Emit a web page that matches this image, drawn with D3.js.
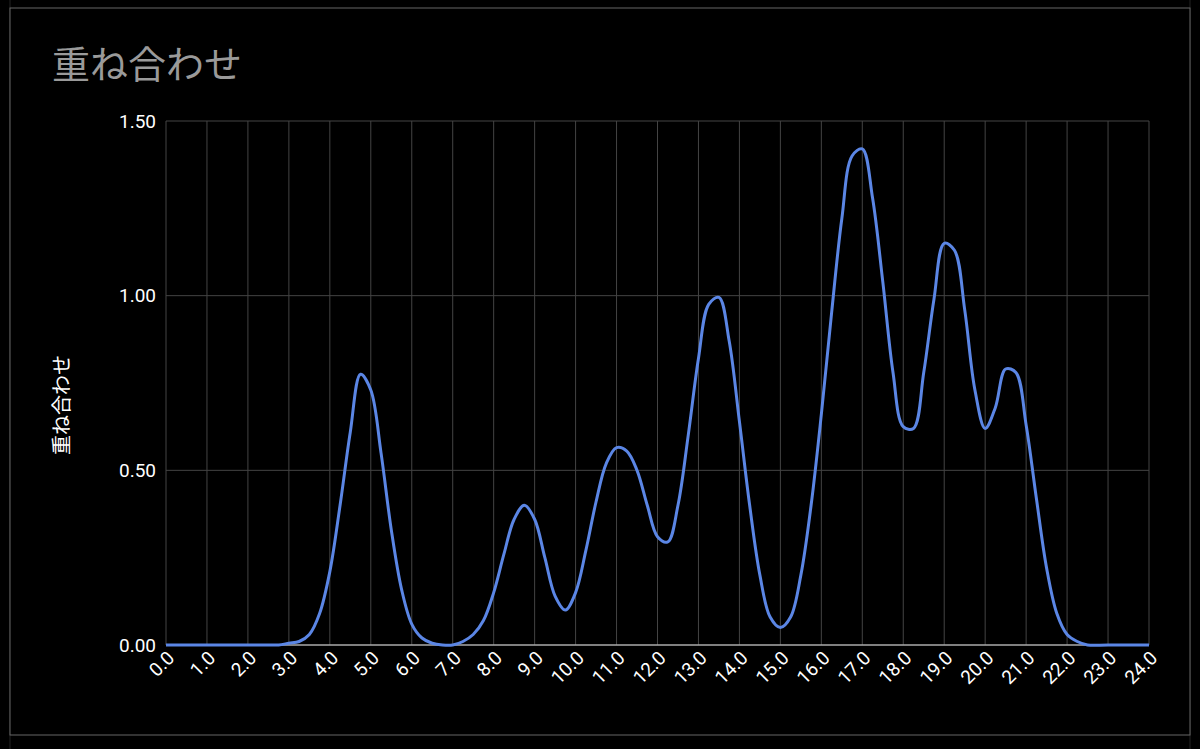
<!DOCTYPE html>
<html><head><meta charset="utf-8">
<script src="https://cdn.jsdelivr.net/npm/d3@7"></script>
<style>body{margin:0;background:#000}svg{display:block}</style>
</head><body>
<svg id="c" width="1200" height="749"></svg>
<script>
// values, x step 0.25
var xs0 = 2.5, step = 0.25;
var yValues = [0,0,0.005,0.01,0.03,0.09,0.21,0.4,0.61,0.775,0.73,0.55,0.33,0.16,0.06,0.02,0.005,0,0,
  0.01,0.03,0.07,0.15,0.26,0.36,0.40,0.36,0.25,0.14,0.10,0.15,0.27,0.41,0.52,0.565,0.555,0.5,0.4,0.31,0.295,
  0.40,0.6,0.82,0.975,0.995,0.87,0.64,0.40,0.2,0.08,0.05,0.08,0.2,0.4,0.66,0.95,1.22,1.40,1.42,1.28,1.04,
  0.78,0.625,0.62,0.78,0.99,1.15,1.13,0.96,0.73,0.62,0.68,0.79,0.78,0.63,0.42,0.22,0.09,0.03,0.01,0];
var yTicks = [0, 0.5, 1.0, 1.5];
var xTicks = d3.range(0, 25);

var pts = [[0,0],[1,0],[2,0]];
yValues.forEach(function(v, i){ pts.push([xs0 + i*step, v]); });
pts.push([23,0],[24,0]);

var svg = d3.select('#c');
var g0 = svg.append('g').attr('stroke', '#222');
[10,1190].forEach(function(x){ g0.append('line').attr('x1',x).attr('x2',x).attr('y1',0).attr('y2',749); });
svg.append('rect').attr('x',10).attr('y',8).attr('width',1180).attr('height',727)
  .attr('fill','#000').attr('stroke','#666');

var x = d3.scaleLinear().domain([0,24]).range([166,1149]);
var y = d3.scaleLinear().domain([0,1.5]).range([645,121]);

svg.append('text').attr('x',52).attr('y',78).attr('fill','#9a9a9a')
  .style('font-family','Noto Sans CJK JP').style('font-size','38px').text('重ね合わせ');

var grid = svg.append('g').attr('stroke','#444').attr('stroke-width',1);
xTicks.forEach(function(t){ grid.append('line').attr('x1',x(t)).attr('x2',x(t)).attr('y1',y(1.5)).attr('y2',y(0)); });
yTicks.forEach(function(t){ grid.append('line').attr('x1',x(0)).attr('x2',x(24)).attr('y1',y(t)).attr('y2',y(t)); });
svg.append('line').attr('x1',x(0)).attr('x2',x(24)).attr('y1',y(0)).attr('y2',y(0)).attr('stroke','#ddd');

var ya = svg.append('g').attr('transform','translate('+x(0)+',0)')
  .call(d3.axisLeft(y).tickValues(yTicks).tickFormat(d3.format('.2f')).tickSize(0).tickPadding(10));
ya.select('.domain').remove();
ya.selectAll('text').attr('fill','#fff').style('font-family','Roboto, Arial').style('font-size','19px');

var xa = svg.append('g').attr('transform','translate(0,'+y(0)+')')
  .call(d3.axisBottom(x).tickValues(xTicks).tickFormat(d3.format('.1f')).tickSize(0));
xa.select('.domain').remove();
xa.selectAll('text').attr('fill','#fff').style('font-family','Roboto, Arial').style('font-size','19px')
  .attr('text-anchor','end').attr('dy','0').attr('transform','translate(7,12) rotate(-45)');

svg.append('text').attr('transform','translate(69,405) rotate(-90)').attr('text-anchor','middle')
  .attr('fill','#fff').style('font-family','Noto Sans CJK JP').style('font-size','20px').text('重ね合わせ');

svg.append('path').datum(pts).attr('fill','none').attr('stroke','#5b86e5').attr('stroke-width',3)
  .attr('d', d3.line().x(function(d){return x(d[0]);}).y(function(d){return y(Math.max(0,d[1]));}).curve(d3.curveCatmullRom.alpha(0.5)));
</script>
</body></html>
